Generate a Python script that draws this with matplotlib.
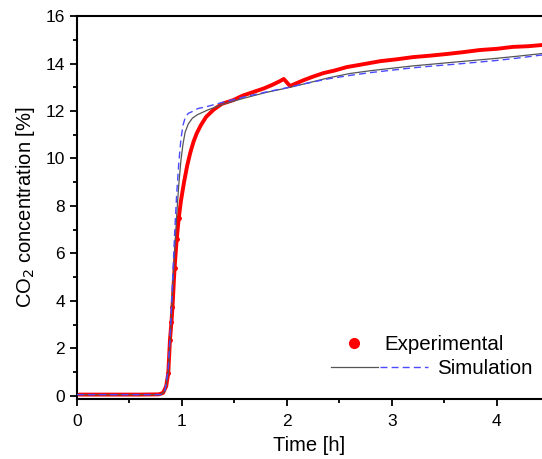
import matplotlib
matplotlib.use("Agg")
import matplotlib.pyplot as plt
from matplotlib.lines import Line2D
from matplotlib.legend_handler import HandlerTuple
from matplotlib.ticker import MultipleLocator

plt.rcParams['font.family'] = ['Liberation Sans', 'DejaVu Sans']

# experimental CO2 concentration
exp_t = [0.02, 0.2, 0.4, 0.6, 0.78, 0.82, 0.85, 0.87, 0.886, 0.9, 0.91, 0.93, 0.95,
         0.97, 0.99, 1.02, 1.05, 1.08, 1.11, 1.14, 1.18, 1.23, 1.30, 1.38, 1.49, 1.58,
         1.68, 1.78, 1.86, 1.93, 1.97, 2.0, 2.03, 2.08, 2.16, 2.25, 2.35, 2.45, 2.57,
         2.7, 2.89, 3.05, 3.2, 3.36, 3.52, 3.68, 3.84, 4.0, 4.15, 4.3, 4.43]
exp_c = [0.05, 0.05, 0.05, 0.05, 0.06, 0.12, 0.4, 0.97, 2.36, 3.1, 3.75, 5.4, 6.6,
         7.5, 8.2, 9.0, 9.7, 10.25, 10.7, 11.05, 11.4, 11.75, 12.05, 12.3, 12.46, 12.65,
         12.8, 12.95, 13.1, 13.25, 13.35, 13.2, 13.05, 13.15, 13.3, 13.45, 13.6, 13.7,
         13.85, 13.95, 14.1, 14.18, 14.27, 14.33, 14.4, 14.48, 14.57, 14.62, 14.7, 14.73,
         14.78]

# simulation, model 1 (grey solid)
sim1_t = [0.0, 0.8, 0.84, 0.87, 0.89, 0.91, 0.93, 0.95, 0.97, 0.99, 1.01, 1.03, 1.06,
          1.1, 1.15, 1.25, 1.4, 1.6, 1.8, 2.0, 2.2, 2.4, 2.6, 2.8, 3.0, 3.2, 3.4,
          3.6, 3.8, 4.0, 4.2, 4.43]
sim1_c = [0.05, 0.05, 0.2, 1.0, 2.5, 4.3, 6.0, 7.6, 8.9, 9.9, 10.6, 11.1, 11.45,
          11.7, 11.85, 12.05, 12.3, 12.55, 12.78, 12.97, 13.18, 13.4, 13.58, 13.7, 13.8,
          13.9, 13.98, 14.06, 14.14, 14.22, 14.31, 14.42]

# simulation, model 2 (blue dashed)
sim2_t = [0.0, 0.8, 0.84, 0.87, 0.89, 0.91, 0.93, 0.95, 0.97, 0.99, 1.01, 1.03, 1.06,
          1.1, 1.15, 1.25, 1.4, 1.6, 1.8, 2.0, 2.2, 2.4, 2.6, 2.8, 3.0, 3.2, 3.4,
          3.6, 3.8, 4.0, 4.2, 4.43]
sim2_c = [0.05, 0.05, 0.25, 1.2, 2.8, 4.8, 6.8, 8.5, 9.8, 10.8, 11.4, 11.7, 11.9,
          11.98, 12.1, 12.2, 12.38, 12.6, 12.8, 12.98, 13.18, 13.36, 13.5, 13.62, 13.72,
          13.82, 13.9, 13.97, 14.05, 14.13, 14.23, 14.36]

fig = plt.figure(figsize=(5.42, 4.59), dpi=100)
ax = fig.add_axes([0.142, 0.131, 0.858, 0.834])

ax.plot(exp_t, exp_c, color='red', lw=2.8, solid_capstyle='round', zorder=2)
ax.plot(exp_t[7:14], exp_c[7:14], 'o', color='red', ms=2.5, zorder=2)
l1, = ax.plot(sim1_t, sim1_c, color='#555555', lw=0.9, zorder=3)
l2, = ax.plot(sim2_t, sim2_c, color='#4a4aff', lw=1.0, ls=(0, (5, 3)), zorder=3)

ax.set_xlim(0, 4.43)
ax.set_ylim(-0.13, 16)
ax.xaxis.set_major_locator(MultipleLocator(1))
ax.xaxis.set_minor_locator(MultipleLocator(0.5))
ax.yaxis.set_major_locator(MultipleLocator(2))
ax.yaxis.set_minor_locator(MultipleLocator(1))
ax.tick_params(which='both', direction='out', width=1.3, labelsize=12.5, top=False, right=False)
ax.tick_params(which='major', length=5)
ax.tick_params(which='minor', length=3)
ax.tick_params(axis='x', pad=6)
for s in ['left', 'bottom', 'top']:
    ax.spines[s].set_linewidth(1.5)
ax.spines['right'].set_visible(False)

ax.set_xlabel('Time [h]', fontsize=14.5, labelpad=5)
ax.set_ylabel('CO$_2$ concentration [%]', fontsize=14.5, labelpad=6)

dot = Line2D([], [], marker='o', color='red', ls='none', ms=7)
leg1 = ax.legend([dot], ['Experimental'], loc='center left', bbox_to_anchor=(0.615, 0.249),
                 bbox_transform=fig.transFigure, frameon=False, fontsize=14.8,
                 handlelength=1.0, handletextpad=1.0, borderpad=0)
ax.add_artist(leg1)
ax.legend([(l1, l2)], ['Simulation'], loc='center left', bbox_to_anchor=(0.592, 0.197),
          bbox_transform=fig.transFigure, frameon=False, fontsize=14.8,
          handlelength=4.7, handletextpad=0.45, borderpad=0,
          handler_map={tuple: HandlerTuple(ndivide=None, pad=0.1)})

fig.savefig('out.png', dpi=100)
